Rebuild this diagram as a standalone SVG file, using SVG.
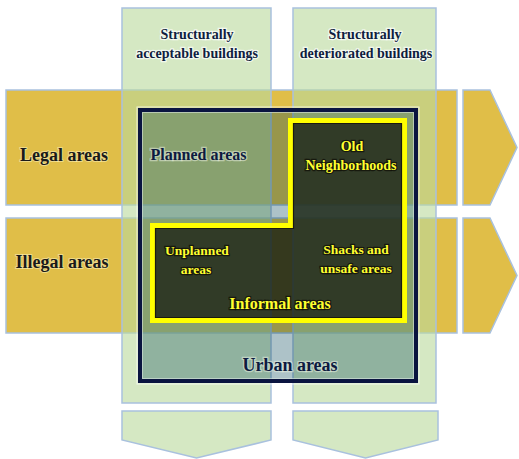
<svg xmlns="http://www.w3.org/2000/svg" width="519" height="459" viewBox="0 0 519 459">
<style>
.row{fill:#e0be48;stroke:#a9c1de;stroke-width:1.5}
.col{fill:#bbda9e;fill-opacity:0.62;stroke:#a9c1de;stroke-width:1.5}
.colArrow{fill:#d5e8c3;stroke:#a9c1de;stroke-width:1.5}
text{font-family:"Liberation Serif","Times New Roman",serif;font-weight:bold;text-anchor:middle;paint-order:stroke}
.hdr{font-size:14px;fill:#0f1d40;stroke:#ffffff;stroke-width:2.5;stroke-opacity:0.7}
.side{font-size:18px;fill:#1a1a1a;stroke:#fff6c8;stroke-width:2;stroke-opacity:0.5}
.navy{fill:#0d1a40;stroke:#e8f0e0;stroke-width:2.5;stroke-opacity:0.55}
.yel{fill:#ffff30;stroke:#101008;stroke-width:2.5;stroke-opacity:0.8}
</style>
<rect width="519" height="459" fill="#ffffff"/>
<g id="row-legal">
  <rect class="row" x="6" y="90" width="451" height="115"/>
  <polygon class="row" points="463,90 490,90 517,147.5 490,205 463,205"/>
</g>
<g id="row-illegal">
  <rect class="row" x="6" y="218" width="451" height="115"/>
  <polygon class="row" points="463,218 490,218 517,275.5 490,333 463,333"/>
</g>
<g id="col-acceptable">
  <rect class="col" x="122" y="8" width="149" height="395"/>
  <polygon class="colArrow" points="122,411 271,411 271,440 196.5,458 122,440"/>
</g>
<g id="col-deteriorated">
  <rect class="col" x="293" y="8" width="143" height="395"/>
  <polygon class="colArrow" points="293,411 438,411 438,440 365.5,458 293,440"/>
</g>
<g id="urban">
  <rect x="137" y="107" width="282" height="277" fill="none" stroke="#ffffff" stroke-opacity="0.7" stroke-width="1"/>
  <rect x="140" y="110" width="276" height="271" fill="#004255" fill-opacity="0.32" stroke="#0a1440" stroke-width="4"/>
  <rect x="142.5" y="112.5" width="271" height="266" fill="none" stroke="#d8e4e0" stroke-opacity="0.6" stroke-width="1"/>
</g>
<g id="informal">
  <polygon points="290.5,120.5 404.5,120.5 404.5,320.5 152.5,320.5 152.5,225.5 290.5,225.5" fill="#14190f" fill-opacity="0.75" stroke="#ffff00" stroke-width="5"/>
  <polygon points="293.5,123.5 401.5,123.5 401.5,317.5 155.5,317.5 155.5,228.5 293.5,228.5" fill="none" stroke="#1a1a10" stroke-width="1.2"/>
</g>
<g id="labels">
  <text class="hdr" x="197" y="39">Structurally</text>
  <text class="hdr" x="197" y="58">acceptable buildings</text>
  <text class="hdr" x="365" y="39">Structurally</text>
  <text class="hdr" x="366" y="58">deteriorated buildings</text>
  <text class="side" x="64" y="161">Legal areas</text>
  <text class="side" x="62" y="268">Illegal areas</text>
  <text class="navy" x="198.5" y="160" font-size="16">Planned areas</text>
  <text class="yel" x="352" y="151" font-size="14">Old</text>
  <text class="yel" x="351" y="170" font-size="14">Neighborhoods</text>
  <text class="yel" x="197" y="255" font-size="13.5">Unplanned</text>
  <text class="yel" x="196" y="274" font-size="13.5">areas</text>
  <text class="yel" x="356" y="254" font-size="13.5">Shacks and</text>
  <text class="yel" x="356" y="273" font-size="13.5">unsafe areas</text>
  <text class="yel" x="280" y="309" font-size="16">Informal areas</text>
  <text class="navy" x="290" y="371" font-size="18">Urban areas</text>
</g>
</svg>
